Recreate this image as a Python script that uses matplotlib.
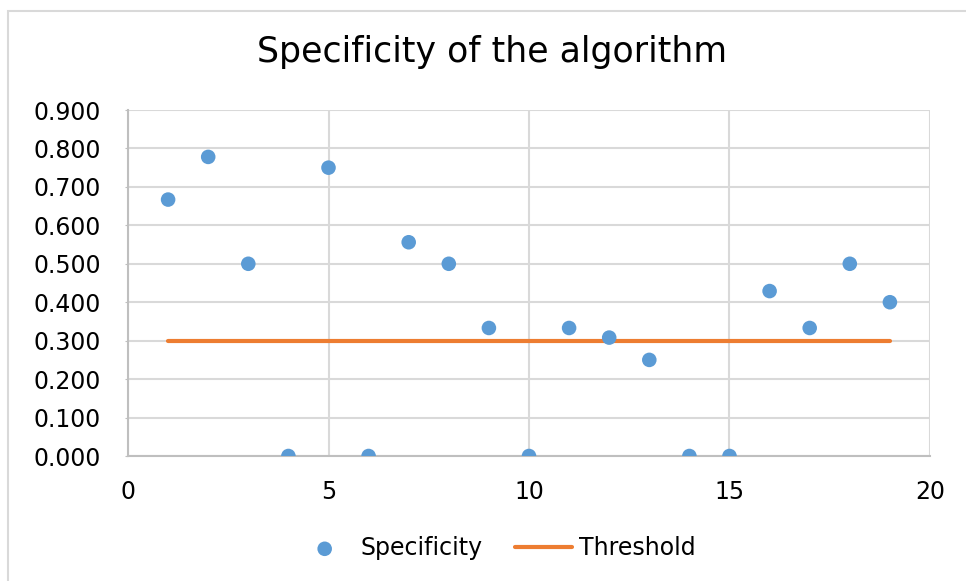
import matplotlib.pyplot as plt
from matplotlib.patches import Rectangle

# data
x_vals = list(range(1, 20))
specificity = [0.667, 0.778, 0.500, 0.000, 0.750, 0.000, 0.556, 0.500, 0.333, 0.000,
               0.333, 0.308, 0.250, 0.000, 0.000, 0.429, 0.333, 0.500, 0.400]
threshold_x = [1, 19]
threshold_y = [0.3, 0.3]

y_ticks = [0.0, 0.1, 0.2, 0.3, 0.4, 0.5, 0.6, 0.7, 0.8, 0.9]
x_ticks = [0, 5, 10, 15, 20]

blue = '#5b9bd5'
orange = '#ed7d31'
grid_col = '#d9d9d9'

fig = plt.figure(figsize=(9.66, 5.81), dpi=100)
ax = fig.add_axes([128 / 966, 1 - 456 / 581, (930 - 128) / 966, (456 - 110) / 581])

# chart border (only left/top visible in the screenshot)
fig.patches.append(Rectangle((8 / 966, -0.05), 1.2, 1 - 11 / 581 + 0.05,
                             transform=fig.transFigure, fill=False,
                             edgecolor='#d9d9d9', linewidth=1.5))

ax.scatter(x_vals, specificity, s=110, color=blue, zorder=3, label='Specificity',
           edgecolors='none')
ax.plot(threshold_x, threshold_y, color=orange, linewidth=3, zorder=2,
        solid_capstyle='round', label='Threshold')

ax.set_xlim(0, 20)
ax.set_ylim(0, 0.9)
ax.set_xticks(x_ticks)
ax.set_yticks(y_ticks)
ax.set_yticklabels([f'{v:.3f}' for v in y_ticks])
ax.grid(True, color=grid_col, linewidth=1.5, zorder=0)
ax.set_axisbelow(True)

for side in ['top', 'right']:
    ax.spines[side].set_visible(False)
for side in ['left', 'bottom']:
    ax.spines[side].set_color('#bfbfbf')
    ax.spines[side].set_linewidth(1.5)

ax.tick_params(axis='y', length=2.5, color='#bfbfbf', labelsize=17, pad=17)
ax.tick_params(axis='x', length=0, labelsize=17, pad=17)

# title is centred on the chart area, not the plot area
fig.text(492 / 966, 1 - 52 / 581, 'Specificity of the algorithm', fontsize=25,
         ha='center', va='center')

fig.legend(loc='center', bbox_to_anchor=(496 / 966, 1 - 548 / 581), ncol=2,
           frameon=False, fontsize=17, handlelength=2.4, columnspacing=1.4,
           handletextpad=0.3)

fig.savefig('out.png', dpi=100)
